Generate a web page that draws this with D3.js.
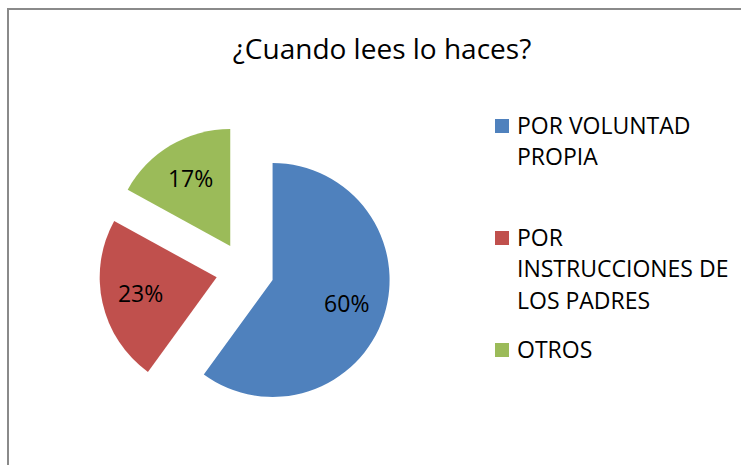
<!DOCTYPE html>
<html>
<head>
<meta charset="utf-8">
<script src="https://cdn.jsdelivr.net/npm/d3@7"></script>
<style>
  body { margin: 0; background: #fff; }
  svg { display: block; font-family: 'Open Sans', sans-serif; }
</style>
</head>
<body>
<svg></svg>
<script>
const title = '¿Cuando lees lo haces?';
const categories = ['POR VOLUNTAD PROPIA', 'POR INSTRUCCIONES DE LOS PADRES', 'OTROS'];
const values = [60, 23, 17];
const colors = ['#4F81BD', '#C0504D', '#9BBB59'];

const width = 741;
const height = 465;

const svg = d3.select('svg')
  .attr('width', width)
  .attr('height', height);

// chart frame (right and bottom edges fall outside the picture)
svg.append('rect')
  .attr('x', 8)
  .attr('y', 9)
  .attr('width', 800)
  .attr('height', 500)
  .attr('fill', '#fff')
  .attr('stroke', '#8a8a8a')
  .attr('stroke-width', 2);

svg.append('text')
  .attr('x', 382)
  .attr('y', 59)
  .attr('text-anchor', 'middle')
  .attr('font-size', 28)
  .attr('fill', '#000')
  .text(title);

// pie, every slice pulled out from the centre
const radius = 117;
const explode = 29;
const pie = d3.pie().sort(null).value(d => d);
const arcs = pie(values);
const arc = d3.arc().innerRadius(0).outerRadius(radius);
const pullArc = d3.arc().innerRadius(explode).outerRadius(explode);
const labelArc = d3.arc().innerRadius(78).outerRadius(78);

const g = svg.append('g').attr('transform', 'translate(245,271)');

const slice = g.selectAll('g.slice')
  .data(arcs)
  .enter()
  .append('g')
  .attr('class', 'slice')
  .attr('transform', d => `translate(${pullArc.centroid(d)})`);

slice.append('path')
  .attr('d', arc)
  .attr('fill', (d, i) => colors[i]);

slice.append('text')
  .attr('transform', d => `translate(${labelArc.centroid(d)})`)
  .attr('text-anchor', 'middle')
  .attr('dy', '0.35em')
  .attr('font-size', 23)
  .attr('fill', '#000')
  .text(d => d.data + '%');

// legend
const legendY = d3.scalePoint().domain(categories).range([134, 358]);
const legend = svg.append('g');

const item = legend.selectAll('g')
  .data(categories)
  .enter()
  .append('g')
  .attr('transform', d => `translate(495,${legendY(d)})`);

item.append('rect')
  .attr('x', 0)
  .attr('y', -15)
  .attr('width', 14)
  .attr('height', 14)
  .attr('fill', (d, i) => colors[i]);

item.append('text')
  .attr('x', 22)
  .attr('font-size', 23)
  .attr('fill', '#000')
  .each(function (d) {
    wrap(d3.select(this), d, 218);
  });

function wrap(text, str, maxW) {
  const words = str.split(' ');
  let line = [];
  let lineNo = 0;
  let tspan = text.append('tspan').attr('x', 22).attr('y', 0);
  words.forEach(w => {
    line.push(w);
    tspan.text(line.join(' '));
    if (tspan.node().getComputedTextLength() > maxW && line.length > 1) {
      line.pop();
      tspan.text(line.join(' '));
      line = [w];
      lineNo++;
      tspan = text.append('tspan')
        .attr('x', 22)
        .attr('y', lineNo * 31.4)
        .text(w);
    }
  });
}
</script>
</body>
</html>
